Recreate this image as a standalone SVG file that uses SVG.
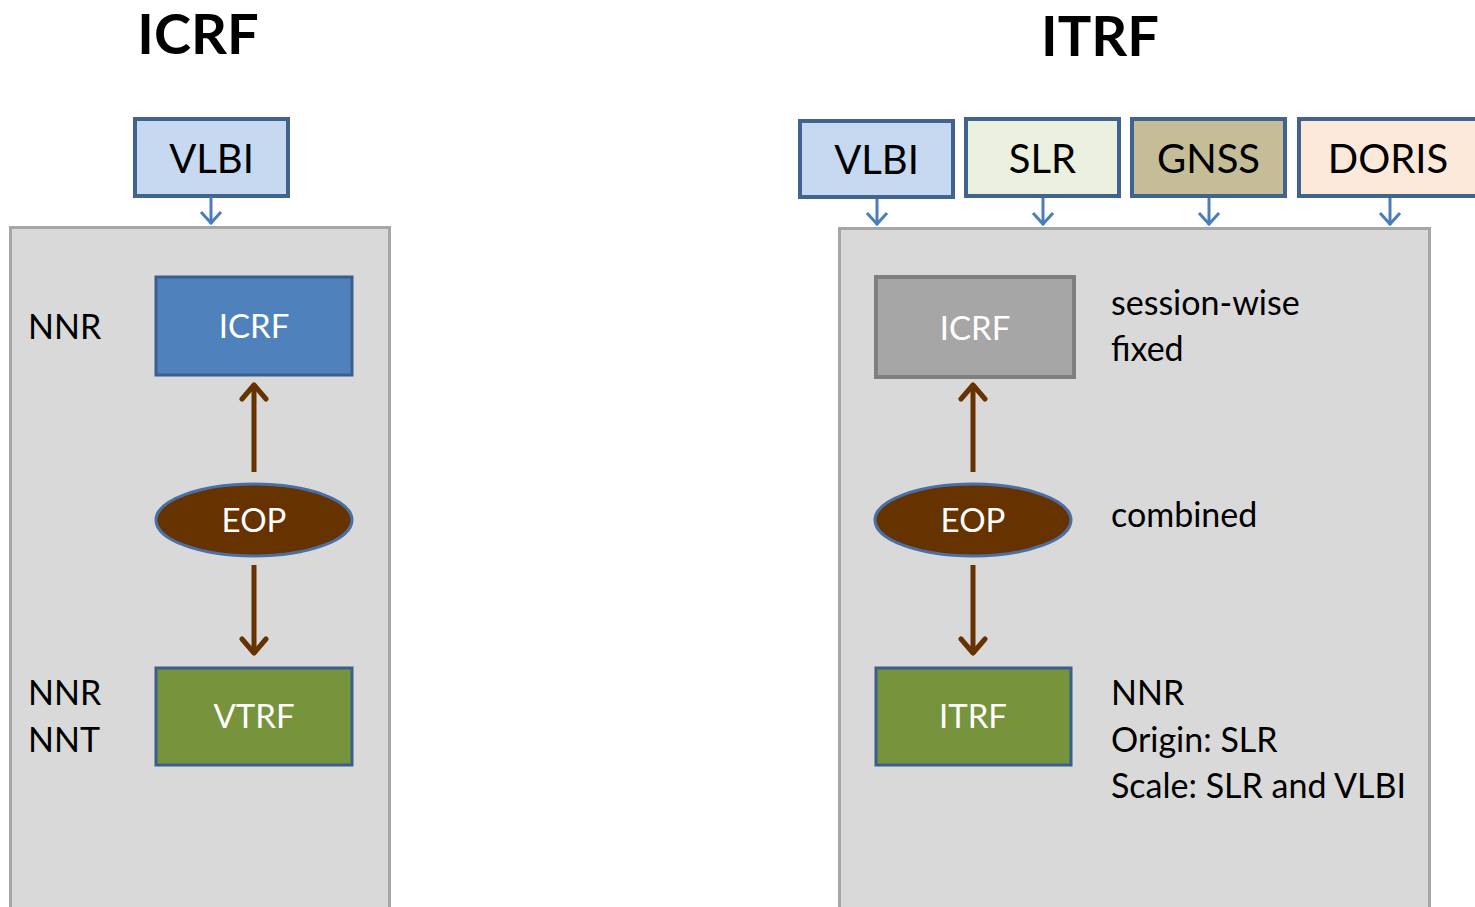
<svg xmlns="http://www.w3.org/2000/svg" width="1475" height="907" viewBox="0 0 1475 907">
<defs>
<style>
text{font-family:Lato,"Open Sans","Liberation Sans",sans-serif}
.title{font-size:56px;font-weight:bold;fill:#000;text-anchor:middle}
.panel{fill:#d9d9d9;stroke:#a6a6a6;stroke-width:3}
.src{stroke:#41648f;stroke-width:4}
.srct{font-size:40px;fill:#000;text-anchor:middle}
.node{stroke:#3a5f8f;stroke-width:3}
.nodet{font-size:33px;fill:#fff;text-anchor:middle}
.lbl{font-size:34px;fill:#000}
.blue{stroke:#4a7ebb;stroke-width:3;fill:none}
.brown{stroke:#663300;stroke-width:5;fill:none}
</style>
<marker id="ab" markerUnits="userSpaceOnUse" markerWidth="20" markerHeight="24" viewBox="0 0 20 24" refX="18" refY="12" orient="auto">
<path d="M6,2 L17,12 L6,22" fill="none" stroke="#4a7ebb" stroke-width="3"/>
</marker>
<marker id="br" markerUnits="userSpaceOnUse" markerWidth="26" markerHeight="30" viewBox="0 0 26 30" refX="23" refY="15" orient="auto">
<path d="M8,3 L22,15 L8,27" fill="none" stroke="#663300" stroke-width="5" stroke-linecap="round" stroke-linejoin="round"/>
</marker>
</defs>
<rect width="1475" height="907" fill="#fff"/>
<text class="title" x="198" y="54">ICRF</text>
<text class="title" x="1100" y="56">ITRF</text>
<rect class="panel" x="10.5" y="227.5" width="379" height="690"/>
<rect class="panel" x="839.5" y="228.5" width="590" height="690"/>
<g id="vlbi-left"><rect class="src" x="135" y="119" width="153" height="77" fill="#c6d9f0"/><text class="srct" x="211.5" y="173">VLBI</text></g>
<g id="vlbi-right"><rect class="src" x="800" y="121" width="153" height="76" fill="#c6d9f0"/><text class="srct" x="876.5" y="174">VLBI</text></g>
<g id="slr"><rect class="src" x="966" y="119" width="153" height="77" fill="#ebf1de"/><text class="srct" x="1042.5" y="173">SLR</text></g>
<g id="gnss"><rect class="src" x="1132" y="119" width="153" height="77" fill="#c4bd97"/><text class="srct" x="1208.5" y="173">GNSS</text></g>
<g id="doris"><rect class="src" x="1299" y="119" width="180" height="77" fill="#fde9d9"/><text class="srct" x="1388" y="173">DORIS</text></g>
<g id="icrf-left"><rect class="node" x="156" y="277" width="196" height="98" fill="#4f81bd"/><text class="nodet" x="254" y="338">ICRF</text></g>
<g id="eop-left"><ellipse cx="254" cy="520" rx="98" ry="36" fill="#663300" stroke="#4a6fa5" stroke-width="3"/><text class="nodet" x="254" y="532">EOP</text></g>
<g id="vtrf"><rect class="node" x="156" y="668" width="196" height="97" fill="#77933c"/><text class="nodet" x="254" y="728">VTRF</text></g>
<g id="icrf-right"><rect x="876" y="277" width="198" height="100" fill="#a6a6a6" stroke="#7f7f7f" stroke-width="4"/><text class="nodet" x="975" y="340">ICRF</text></g>
<g id="eop-right"><ellipse cx="973" cy="520" rx="98" ry="36" fill="#663300" stroke="#4a6fa5" stroke-width="3"/><text class="nodet" x="973" y="532">EOP</text></g>
<g id="itrf"><rect class="node" x="876" y="668" width="195" height="97" fill="#77933c"/><text class="nodet" x="973" y="728">ITRF</text></g>
<g id="labels">
<text class="lbl" x="28" y="339">NNR</text>
<text class="lbl" x="28" y="705">NNR</text>
<text class="lbl" x="28" y="752">NNT</text>
<text class="lbl" x="1111" y="315">session-wise</text>
<text class="lbl" x="1111" y="361">fixed</text>
<text class="lbl" x="1111" y="527">combined</text>
<text class="lbl" x="1111" y="705">NNR</text>
<text class="lbl" x="1111" y="752">Origin: SLR</text>
<text class="lbl" x="1111" y="798">Scale: SLR and VLBI</text>
</g>
<g id="connectors">
<line class="blue" x1="211" y1="197" x2="211" y2="224" marker-end="url(#ab)"/>
<line class="blue" x1="877" y1="199" x2="877" y2="225" marker-end="url(#ab)"/>
<line class="blue" x1="1043" y1="198" x2="1043" y2="225" marker-end="url(#ab)"/>
<line class="blue" x1="1209" y1="198" x2="1209" y2="225" marker-end="url(#ab)"/>
<line class="blue" x1="1390" y1="198" x2="1390" y2="225" marker-end="url(#ab)"/>
<line class="brown" x1="254" y1="472" x2="254" y2="384" marker-end="url(#br)"/>
<line class="brown" x1="254" y1="565" x2="254" y2="654" marker-end="url(#br)"/>
<line class="brown" x1="973" y1="472" x2="973" y2="384" marker-end="url(#br)"/>
<line class="brown" x1="973" y1="565" x2="973" y2="654" marker-end="url(#br)"/>
</g>
</svg>
